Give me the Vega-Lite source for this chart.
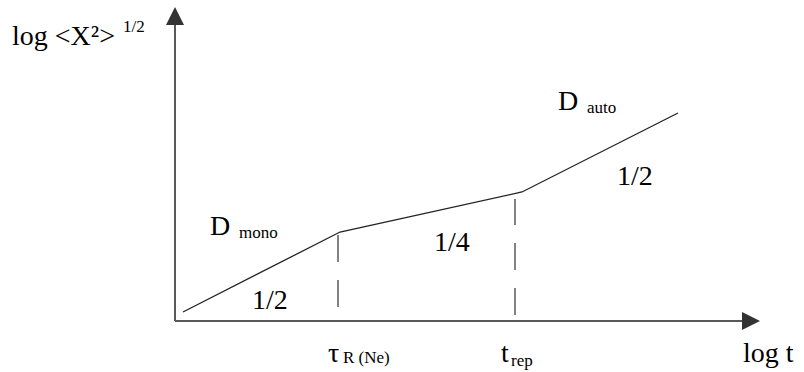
{
  "$schema": "https://vega.github.io/schema/vega-lite/v6.json",
  "width": 804,
  "height": 372,
  "autosize": {"type": "none"},
  "padding": 0,
  "background": "white",
  "config": {"view": {"stroke": null}},
  "datasets": {
    "curve": [
      {"logt": 8, "logx": 9},
      {"logt": 165, "logx": 89},
      {"logt": 347, "logx": 129},
      {"logt": 503, "logx": 208}
    ],
    "axes": [
      {"x": 0, "y": 0, "x2": 0, "y2": 296},
      {"x": 0, "y": 0, "x2": 567, "y2": 0}
    ],
    "guides": [
      {"x": 163, "y": 14, "x2": 163, "y2": 86},
      {"x": 340, "y": 6, "x2": 340, "y2": 122}
    ],
    "arrows": [
      {"x": 0, "y": 305, "dir": "up"},
      {"x": 576, "y": 0, "dir": "right"}
    ],
    "labels": [
      {"text": "log <X²>", "x": -163, "y": 276},
      {"text": "D", "x": 35, "y": 86},
      {"text": "1/4", "x": 259, "y": 70},
      {"text": "1/2", "x": 77, "y": 12},
      {"text": "D", "x": 383, "y": 211},
      {"text": "1/2", "x": 442, "y": 136},
      {"text": "τ", "x": 153, "y": -41},
      {"text": "t", "x": 326, "y": -41},
      {"text": "log t", "x": 568, "y": -41}
    ],
    "sublabels": [
      {"text": "1/2", "x": -52, "y": 289},
      {"text": "mono", "x": 64, "y": 83},
      {"text": "auto", "x": 412, "y": 208},
      {"text": "R (Ne)", "x": 168, "y": -42},
      {"text": "rep", "x": 336, "y": -45}
    ]
  },
  "layer": [
    {
      "data": {"name": "axes"},
      "mark": {"type": "rule", "color": "#595959", "strokeWidth": 2},
      "encoding": {
        "x": {"field": "x", "type": "quantitative", "scale": {"domain": [-175, 629], "nice": false, "zero": false}, "axis": null},
        "x2": {"field": "x2"},
        "y": {"field": "y", "type": "quantitative", "scale": {"domain": [-51, 321], "nice": false, "zero": false}, "axis": null},
        "y2": {"field": "y2"}
      }
    },
    {
      "data": {"name": "guides"},
      "mark": {"type": "rule", "color": "#595959", "strokeWidth": 1.5, "strokeDash": [27, 18]},
      "encoding": {
        "x": {"field": "x", "type": "quantitative", "axis": null},
        "x2": {"field": "x2"},
        "y": {"field": "y", "type": "quantitative", "axis": null},
        "y2": {"field": "y2"}
      }
    },
    {
      "data": {"name": "curve"},
      "mark": {"type": "line", "color": "#222222", "strokeWidth": 1.3},
      "encoding": {
        "x": {"field": "logt", "type": "quantitative", "axis": null},
        "y": {"field": "logx", "type": "quantitative", "axis": null}
      }
    },
    {
      "data": {"name": "arrows"},
      "mark": {"type": "point", "filled": true, "opacity": 1, "color": "#333333", "size": 324},
      "encoding": {
        "x": {"field": "x", "type": "quantitative", "axis": null},
        "y": {"field": "y", "type": "quantitative", "axis": null},
        "shape": {"field": "dir", "type": "nominal", "scale": {"domain": ["up", "right"], "range": ["M0,-1L-1,1L1,1Z", "M1,0L-1,-1L-1,1Z"]}, "legend": null}
      }
    },
    {
      "data": {"name": "labels"},
      "mark": {"type": "text", "font": "Liberation Serif", "fontSize": 28, "align": "left", "baseline": "alphabetic", "color": "black"},
      "encoding": {
        "x": {"field": "x", "type": "quantitative", "axis": null},
        "y": {"field": "y", "type": "quantitative", "axis": null},
        "text": {"field": "text"}
      }
    },
    {
      "data": {"name": "sublabels"},
      "mark": {"type": "text", "font": "Liberation Serif", "fontSize": 17, "align": "left", "baseline": "alphabetic", "color": "black"},
      "encoding": {
        "x": {"field": "x", "type": "quantitative", "axis": null},
        "y": {"field": "y", "type": "quantitative", "axis": null},
        "text": {"field": "text"}
      }
    }
  ]
}
